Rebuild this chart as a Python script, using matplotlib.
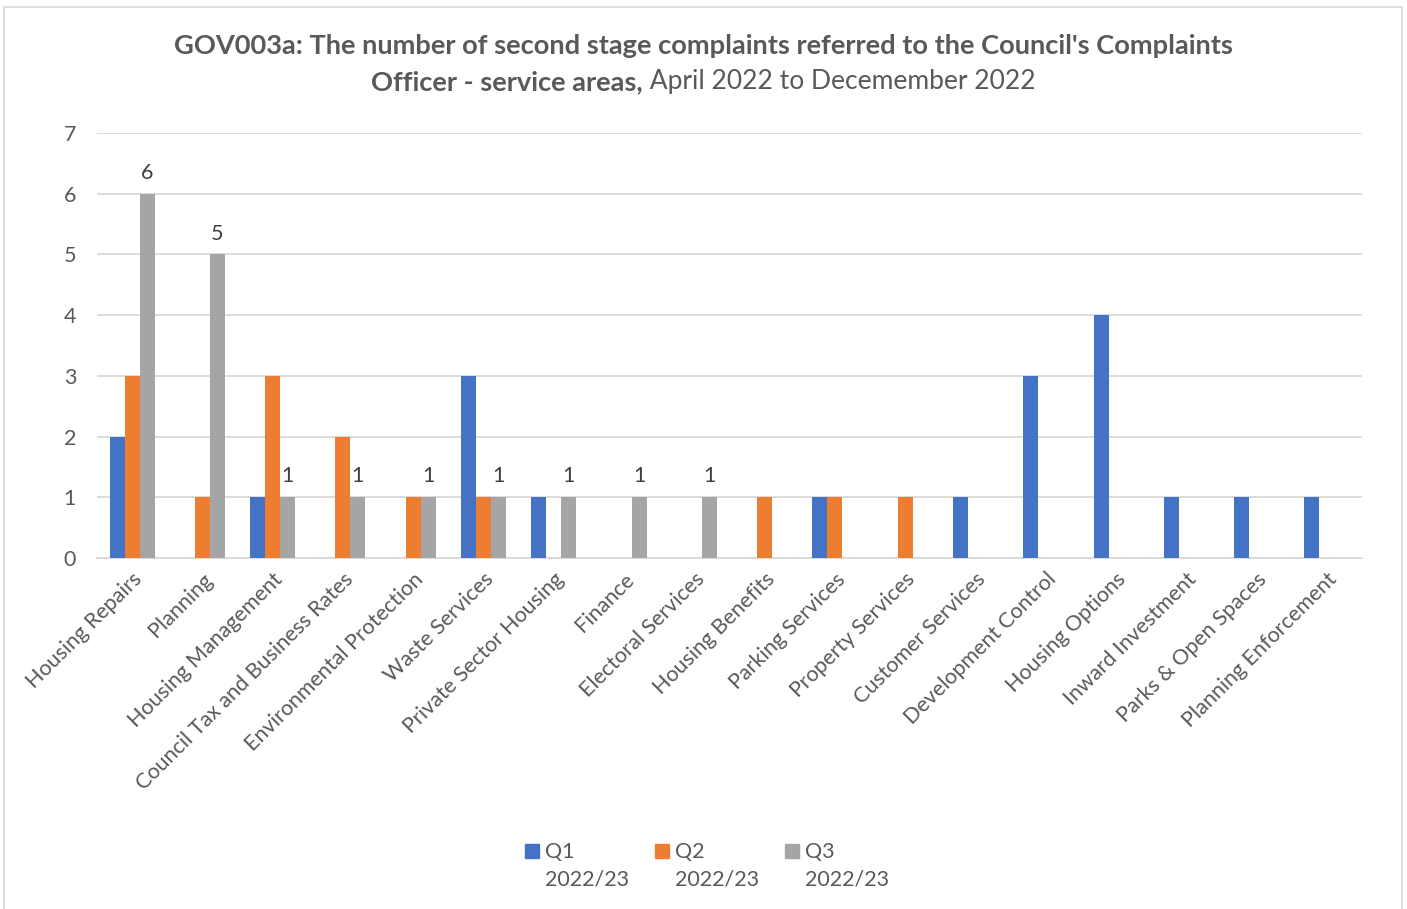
import numpy as np
import matplotlib.pyplot as plt
from matplotlib.patches import Rectangle

plt.rcParams['font.family'] = ['Lato', 'DejaVu Sans']

categories = ["Housing Repairs", "Planning", "Housing Management",
              "Council Tax and Business Rates", "Environmental Protection",
              "Waste Services", "Private Sector Housing", "Finance",
              "Electoral Services", "Housing Benefits", "Parking Services",
              "Property Services", "Customer Services", "Development Control",
              "Housing Options", "Inward Investment", "Parks & Open Spaces",
              "Planning Enforcement"]

q1 = [2, 0, 1, 0, 0, 3, 1, 0, 0, 0, 1, 0, 1, 3, 4, 1, 1, 1]
q2 = [3, 1, 3, 2, 1, 1, 0, 0, 0, 1, 1, 1, 0, 0, 0, 0, 0, 0]
q3 = [6, 5, 1, 1, 1, 1, 1, 1, 1, 0, 0, 0, 0, 0, 0, 0, 0, 0]

series_names = ["Q1\n2022/23", "Q2\n2022/23", "Q3\n2022/23"]
colors = ["#4472C4", "#ED7D31", "#A5A5A5"]
text_col = "#595959"
fs = 15.5

W, H = 1407, 909
fig = plt.figure(figsize=(W / 100, H / 100), dpi=100)
ax = fig.add_axes([97 / W, 1 - 558 / H, (1362 - 97) / W, (558 - 133) / H])

x = np.arange(len(categories))
w = 0.213
bars = []
for i, vals in enumerate([q1, q2, q3]):
    b = ax.bar(x + (i - 1) * w, vals, w, color=colors[i], zorder=3)
    bars.append(b)

# only Q3 gets data labels
for rect, v in zip(bars[2], q3):
    if v > 0:
        ax.text(rect.get_x() + rect.get_width() / 2, v + 0.18, str(v),
                ha='center', va='bottom', fontsize=fs, color="#404040")

ax.set_xlim(-0.5, len(categories) - 0.5)
ax.set_ylim(0, 7)
ax.set_yticks(range(0, 8))
ax.grid(axis='y', color="#d9d9d9", linewidth=1.3, zorder=0)
for s in ['top', 'right', 'left']:
    ax.spines[s].set_visible(False)
ax.spines['bottom'].set_color("#d9d9d9")
ax.spines['bottom'].set_linewidth(1.3)
ax.tick_params(length=0, colors=text_col, labelsize=fs)
ax.tick_params(axis='y', pad=15)
ax.set_xticks(x)
ax.set_xticklabels(categories, rotation=45, ha='right', rotation_mode='anchor')
ax.tick_params(axis='x', pad=8)

# title: first line bold, second line half bold / half regular
tfs = 19.6
fig.text(0.5, 1 - 46 / H, "GOV003a: The number of second stage complaints referred to the Council's Complaints",
         ha='center', va='center', fontsize=tfs, fontweight='bold', color=text_col)
t1 = fig.text(0.5, 1 - 82 / H, "Officer - service areas,", ha='right', va='center',
              fontsize=tfs, fontweight='bold', color=text_col)
t2 = fig.text(0.5, 1 - 82 / H, " April 2022 to Decemember 2022", ha='left', va='center',
              fontsize=19, color=text_col)
fig.canvas.draw()
w1 = t1.get_window_extent().width
w2 = t2.get_window_extent().width
shift = (w1 - w2) / 2 / fig.bbox.width
t1.set_x(0.5 + shift)
t2.set_x(0.5 + shift)

# legend, drawn by hand so the square sits next to the first line
for i, name in enumerate(series_names):
    lx = (525 + i * 130) / W
    fig.patches.append(Rectangle((lx, 1 - 858 / H), 14 / W, 14 / H,
                                 transform=fig.transFigure, color=colors[i]))
    fig.text(lx + 20 / W, 1 - 842 / H, name, ha='left', va='top',
             fontsize=fs, color=text_col, linespacing=1.5)

fig.patches.append(Rectangle((4 / W, -0.01), 1398 / W, 1 - 7 / H + 0.01,
                             transform=fig.transFigure, fill=False,
                             edgecolor="#d9d9d9", linewidth=1.2))

fig.savefig("out.png", dpi=100)
